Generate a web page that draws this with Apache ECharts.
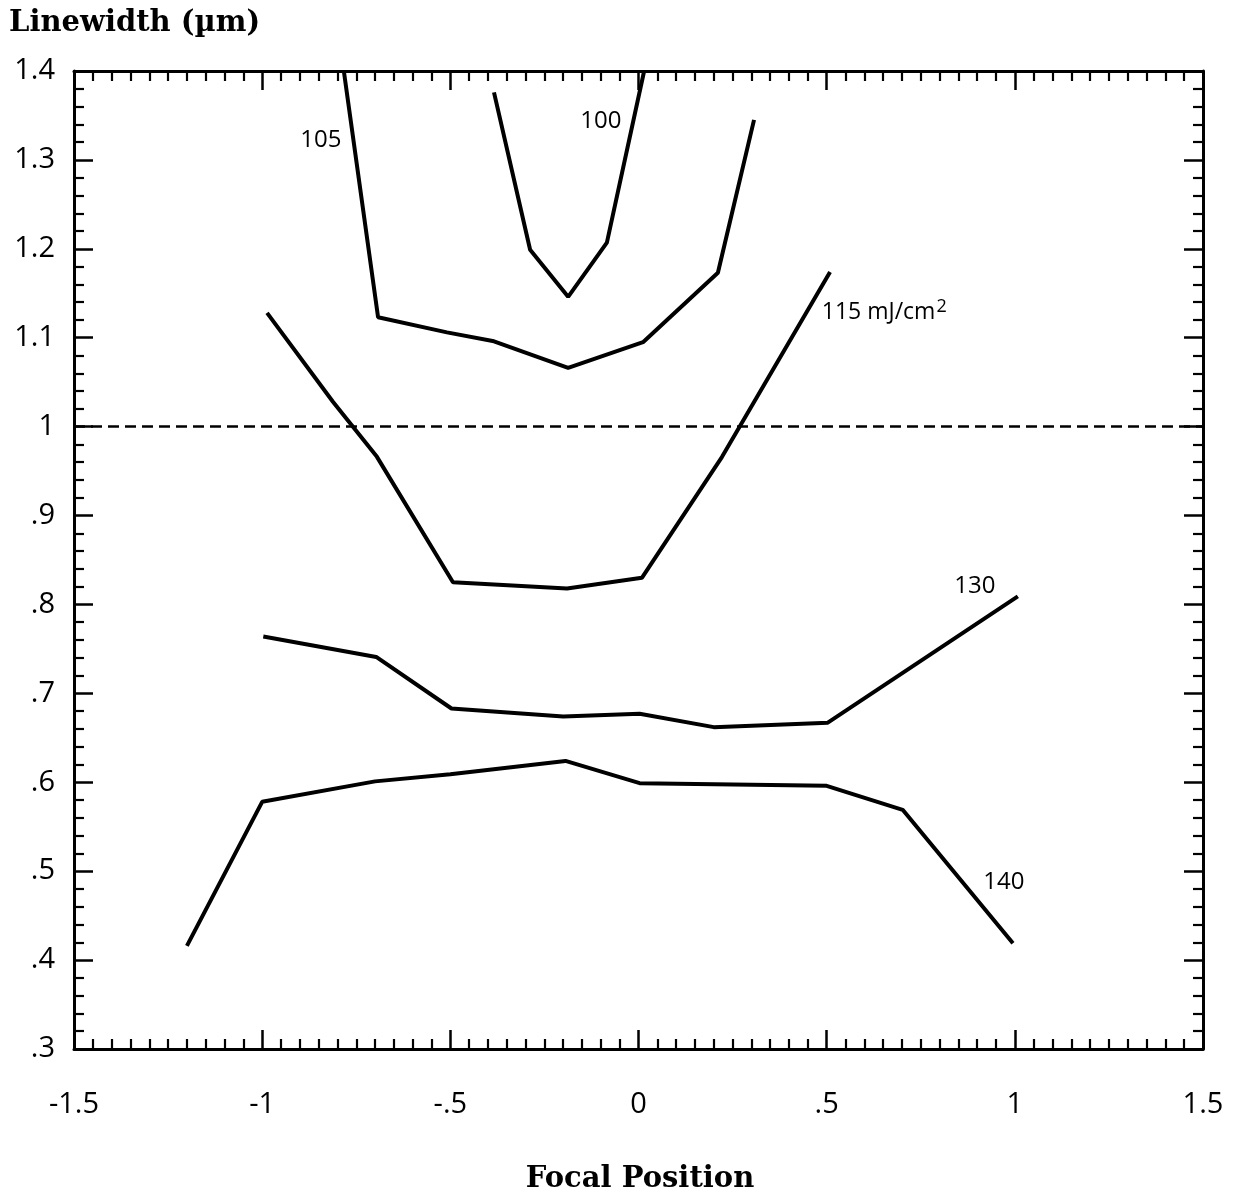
<!DOCTYPE html>
<html>
<head>
<meta charset="utf-8">
<script src="https://cdn.jsdelivr.net/npm/echarts@6/dist/echarts.min.js"></script>
<style>
  html, body { margin: 0; padding: 0; background: #fff; }
  #chart { width: 1235px; height: 1191px; }
</style>
</head>
<body>
<div id="chart"></div>
<script>
// focal position (x) and linewidth in um (y), one pair of arrays per fluence
var pos100 = [-0.384, -0.288, -0.187, -0.084, 0.015];
var lw100 = [1.376, 1.199, 1.146, 1.207, 1.40];

var pos105 = [-0.783, -0.692, -0.509, -0.384, -0.187, 0.012, 0.211, 0.307];
var lw105 = [1.40, 1.123, 1.106, 1.096, 1.066, 1.095, 1.173, 1.345];

var pos115 = [-0.987, -0.812, -0.695, -0.493, -0.19, 0.009, 0.222, 0.509];
var lw115 = [1.128, 1.028, 0.966, 0.825, 0.818, 0.83, 0.966, 1.174];

var pos130 = [-0.997, -0.697, -0.497, -0.2, 0.003, 0.2, 0.503, 1.008];
var lw130 = [0.764, 0.741, 0.683, 0.674, 0.677, 0.662, 0.667, 0.809];

var pos140 = [-1.2, -1.0, -0.7, -0.5, -0.194, 0.003, 0.5, 0.702, 0.995];
var lw140 = [0.416, 0.578, 0.601, 0.609, 0.624, 0.599, 0.596, 0.569, 0.419];

var targetLw = 1.0;

// curve labels: text, anchor x, anchor y
var labelText = ['100', '105', '115 mJ/cm2', '130', '140'];
var labelX = [-0.10, -0.844, 0.487, 0.894, 0.971];
var labelY = [1.344, 1.322, 1.128, 0.821, 0.488];

var xTicks = ['-1.5', '-1', '-.5', '0', '.5', '1', '1.5'];

var tickFont = 'Open Sans';

function pairs(xs, ys) {
    var out = [];
    for (var i = 0; i < xs.length; i++) out.push([xs[i], ys[i]]);
    return out;
}

function shortNum(v) {
    var s = String(parseFloat(v.toFixed(2)));
    return s.replace('0.', '.');
}

function axisBase(show) {
    return {
        axisLine: { show: true, onZero: false, lineStyle: { color: '#000', width: 3 } },
        axisTick: { show: true, inside: true, length: 19, lineStyle: { color: '#000', width: 2.5 } },
        minorTick: { show: true, length: 10, lineStyle: { color: '#000', width: 2.2 } },
        splitLine: { show: false },
        minorSplitLine: { show: false },
        axisLabel: { show: show }
    };
}

var xBottom = axisBase(true);
xBottom.type = 'value';
xBottom.position = 'bottom';
xBottom.min = -1.5;
xBottom.max = 1.5;
xBottom.interval = 0.5;
xBottom.minorTick.splitNumber = 10;
xBottom.axisLabel = {
    show: true, margin: 41, color: '#000', fontSize: 29, fontFamily: tickFont,
    formatter: function (v) { return xTicks[Math.round((v + 1.5) / 0.5)]; }
};
var xTop = axisBase(false);
xTop.type = 'value';
xTop.position = 'top';
xTop.min = -1.5;
xTop.max = 1.5;
xTop.interval = 0.5;
xTop.minorTick.splitNumber = 10;

var yLeft = axisBase(true);
yLeft.type = 'value';
yLeft.position = 'left';
yLeft.min = 0.3;
yLeft.max = 1.4;
yLeft.interval = 0.1;
yLeft.minorTick.splitNumber = 5;
yLeft.axisLabel = {
    show: true, margin: 19, color: '#000', fontSize: 29, fontFamily: tickFont,
    formatter: shortNum
};
var yRight = axisBase(false);
yRight.type = 'value';
yRight.position = 'right';
yRight.min = 0.3;
yRight.max = 1.4;
yRight.interval = 0.1;
yRight.minorTick.splitNumber = 5;

function curve(name, xs, ys) {
    return {
        name: name,
        type: 'line',
        data: pairs(xs, ys),
        showSymbol: false,
        symbol: 'none',
        clip: true,
        lineStyle: { color: '#000', width: 4 },
        emphasis: { disabled: true }
    };
}

var series = [
    curve('100', pos100, lw100),
    curve('105', pos105, lw105),
    curve('115', pos115, lw115),
    curve('130', pos130, lw130),
    curve('140', pos140, lw140)
];

// dashed target line at 1 um
series[0].markLine = {
    silent: true,
    symbol: 'none',
    label: { show: false },
    lineStyle: { color: '#000', width: 2.5, type: [11, 6] },
    data: [{ yAxis: targetLw }]
};

// curve labels as text-only mark points
var labelPoints = [];
for (var i = 0; i < labelText.length; i++) {
    var isUnit = labelText[i].indexOf('mJ') >= 0;
    labelPoints.push({
        coord: [labelX[i], labelY[i]],
        label: isUnit ? {
            position: 'right', distance: 0,
            formatter: '{a|115 mJ/cm}{b|2}',
            rich: {
                a: { fontSize: 23, fontFamily: tickFont, color: '#000' },
                b: { fontSize: 18, fontFamily: tickFont, color: '#000', padding: [0, 0, 12, 1] }
            }
        } : {
            position: 'inside',
            formatter: labelText[i]
        }
    });
}
series[4].markPoint = {
    silent: true,
    symbol: 'circle',
    symbolSize: 0,
    itemStyle: { color: 'rgba(0,0,0,0)' },
    label: { show: true, color: '#000', fontSize: 24, fontFamily: tickFont },
    data: labelPoints
};

var myChart = echarts.init(document.getElementById('chart'));
var option = {
    animation: false,
    backgroundColor: '#fff',
    grid: { left: 74, right: 32, top: 71, bottom: 142, containLabel: false },
    xAxis: [xBottom, xTop],
    yAxis: [yLeft, yRight],
    graphic: [
        {
            type: 'text', left: 9, top: 9,
            style: { text: 'Linewidth (\u00b5m)', fill: '#000', font: 'bold 29px "DejaVu Serif"' }
        },
        {
            type: 'text', x: 640, y: 1165,
            style: { text: 'Focal Position', fill: '#000', align: 'center', font: 'bold 29px "DejaVu Serif"' }
        }
    ],
    series: series
};
myChart.setOption(option);
</script>
</body>
</html>
